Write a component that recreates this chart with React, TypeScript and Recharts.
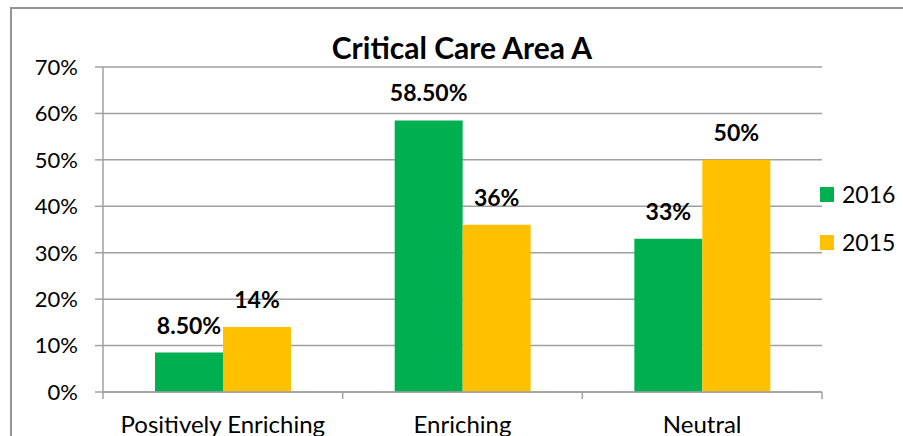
import React from 'react';
import { BarChart, Bar, XAxis, YAxis, CartesianGrid, LabelList, Legend } from 'recharts';

const title = 'Critical Care Area A';
const categories = ['Positively Enriching', 'Enriching', 'Neutral'];
const seriesNames = ['2016', '2015'];
const values2016 = [8.5, 58.5, 33];
const values2015 = [14, 36, 50];
const labels2016 = ['8.50%', '58.50%', '33%'];
const labels2015 = ['14%', '36%', '50%'];
const yTicks = [0, 10, 20, 30, 40, 50, 60, 70];

const colors = ['#00B050', '#FFC000'];
const FONT = 'Lato, "Open Sans", sans-serif';
const GRID = '#a0a0a0';

const W = 903;
const H = 436;
const M = { top: 67, right: 81, bottom: 0, left: 0 };
const Y_W = 103;
const BAND = (W - M.right - Y_W) / categories.length;

const data = categories.map((c, i) => ({
  name: c,
  y2016: values2016[i],
  y2015: values2015[i],
  l2016: labels2016[i],
  l2015: labels2015[i],
}));

const XTick = (props: any) => {
  const { x, y, payload, index } = props;
  const last = index === categories.length - 1;
  return (
    <g>
      <line x1={x - BAND / 2} x2={x - BAND / 2} y1={y} y2={y + 7} stroke={GRID} strokeWidth={1.5} />
      {last && <line x1={x + BAND / 2} x2={x + BAND / 2} y1={y} y2={y + 7} stroke={GRID} strokeWidth={1.5} />}
      <text x={x} y={y + 41} textAnchor="middle" fill="#000" fontSize={24} fontFamily={FONT}>
        {payload.value}
      </text>
    </g>
  );
};

const LegendContent = () => (
  <div style={{ fontFamily: FONT }}>
    {seriesNames.map((n, i) => (
      <div key={n} style={{ display: 'flex', alignItems: 'center', height: 48 }}>
        <div style={{ width: 14, height: 15, background: colors[i], marginRight: 8 }} />
        <span style={{ fontSize: 23, color: '#000', lineHeight: '23px' }}>{n}</span>
      </div>
    ))}
  </div>
);

export default function App() {
  return (
    <div style={{ position: 'absolute', left: 0, top: 0, width: W, height: H, overflow: 'hidden', background: '#fff' }}>
      <div style={{ position: 'absolute', left: 10, top: 7, width: W + 20, height: H + 20, border: '2px solid #959595', boxSizing: 'border-box' }} />
      <div style={{ position: 'absolute', left: 0, top: 32, width: 924, textAlign: 'center', fontFamily: FONT, fontWeight: 700, fontSize: 30, lineHeight: '30px', color: '#000' }}>
        {title}
      </div>
      <div style={{ position: 'absolute', left: 0, top: 0 }}>
        <BarChart width={W} height={H} data={data} margin={M} barCategoryGap={52} barGap={0}>
          <CartesianGrid vertical={false} stroke={GRID} strokeWidth={1.5} />
          <XAxis
            dataKey="name"
            tick={<XTick />}
            tickLine={false}
            tickSize={0}
            tickMargin={0}
            height={44}
            axisLine={{ stroke: GRID, strokeWidth: 1.5 }}
            interval={0}
          />
          <YAxis
            width={Y_W}
            domain={[0, 70]}
            ticks={yTicks}
            tickFormatter={(v: number) => `${v}%`}
            tickSize={8}
            tickMargin={17}
            axisLine={{ stroke: GRID, strokeWidth: 1.5 }}
            tickLine={{ stroke: GRID, strokeWidth: 1.5 }}
            tick={{ fill: '#000', fontSize: 22, fontFamily: FONT }}
            interval={0}
          />
          <Legend
            layout="vertical"
            align="center"
            verticalAlign="middle"
            content={<LegendContent />}
            wrapperStyle={{ position: 'absolute', left: 820, top: 170, width: 90 }}
          />
          <Bar dataKey="y2016" name={seriesNames[0]} fill={colors[0]} isAnimationActive={false}>
            <LabelList dataKey="l2016" position="top" offset={19} fill="#000" fontSize={23} fontWeight={700} fontFamily={FONT} />
          </Bar>
          <Bar dataKey="y2015" name={seriesNames[1]} fill={colors[1]} isAnimationActive={false}>
            <LabelList dataKey="l2015" position="top" offset={19} fill="#000" fontSize={23} fontWeight={700} fontFamily={FONT} />
          </Bar>
        </BarChart>
      </div>
    </div>
  );
}
